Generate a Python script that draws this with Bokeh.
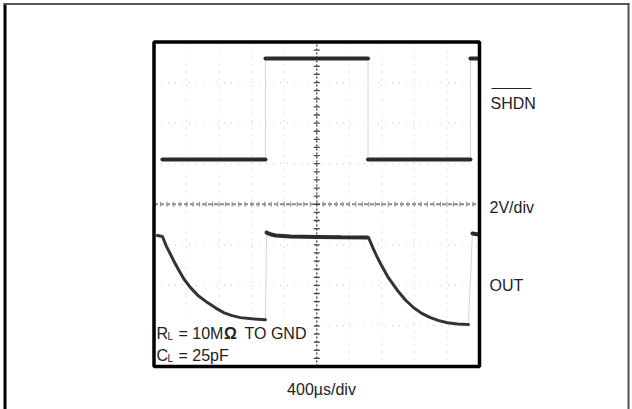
import numpy as np
from bokeh.plotting import figure
from bokeh.models import Range1d, Label
from bokeh.embed import file_html
from bokeh.resources import INLINE

# ---------------- data (time in µs, level in V; 400 µs/div, 2 V/div) ----------------
shdn_t = [104, 1370, 1370, 2630, 2630, 3889, 3889, 3985]
shdn_v = [2.21, 2.21, 7.19, 7.19, 2.21, 2.21, 7.19, 7.19]

out_seg1_t = [43, 104, 150, 200, 240, 300, 370, 449, 540, 657, 760, 854, 960, 1063, 1200, 1370]
out_seg1_v = [-1.54, -1.59, -2.05, -2.45, -2.77, -3.22, -3.70, -4.11, -4.50, -4.85, -5.12, -5.34, -5.49, -5.59, -5.65, -5.69]
out_seg2_t = [1383, 1430, 1493, 1677, 2000, 2300, 2624]
out_seg2_v = [-1.40, -1.48, -1.54, -1.59, -1.61, -1.63, -1.64]
out_seg3_t = [2636, 2690, 2740, 2783, 2880, 2992, 3090, 3188, 3290, 3397, 3500, 3606, 3730, 3864]
out_seg3_v = [-1.64, -2.15, -2.58, -2.92, -3.62, -4.25, -4.72, -5.09, -5.38, -5.59, -5.74, -5.84, -5.90, -5.93]
out_seg4_t = [3913, 3987]
out_seg4_v = [-1.44, -1.49]

x_divs = [400, 800, 1200, 1600, 2400, 2800, 3200, 3600]
y_divs = [-6, -4, -2, 2, 4, 6]

# ---------------- layout helpers (canvas pixels -> data) ----------------
PX_PER_US = 325.5 / 4000.0
PX_PER_V = 324.5 / 16.0
X0_PX = 153.5
YC_PX = 203.75

def X(px):
    return (px - X0_PX) / PX_PER_US

def Y(py):
    return (YC_PX - py) / PX_PER_V

W, H = 632, 409
p = figure(width=W, height=H, output_backend="svg", toolbar_location=None,
           x_range=Range1d(X(0), X(W)), y_range=Range1d(Y(H), Y(0)),
           min_border=0, background_fill_color="white", border_fill_color="white")
p.axis.visible = False
p.grid.visible = False
p.outline_line_color = None

# outer frame (left, top, right)
p.segment(x0=[X(4.5)], y0=[Y(3)], x1=[X(4.5)], y1=[Y(H)], line_color="black", line_width=3)
p.segment(x0=[X(3)], y0=[Y(3.5)], x1=[X(629)], y1=[Y(3.5)], line_color="#555555", line_width=2)
p.segment(x0=[X(628)], y0=[Y(3)], x1=[X(628)], y1=[Y(H)], line_color="#555555", line_width=2)

# graticule
p.segment(x0=x_divs, y0=[-8] * len(x_divs), x1=x_divs, y1=[8] * len(x_divs),
          line_color="#d2d2d2", line_width=1.3, line_dash="1 6")
p.segment(x0=[0] * len(y_divs), y0=y_divs, x1=[4000] * len(y_divs), y1=y_divs,
          line_color="#d2d2d2", line_width=1.3, line_dash="1 6")

# centre axes with minor ticks
p.segment(x0=[0], y0=[0], x1=[4000], y1=[0], line_color="#8a8a8a", line_width=2, line_dash="4 2")
p.segment(x0=[2000], y0=[-8], x1=[2000], y1=[8], line_color="#555555", line_width=1.5, line_dash="2 2")
tx = np.arange(80, 4000, 80)
p.segment(x0=tx, y0=[-2.5 / PX_PER_V] * len(tx), x1=tx, y1=[2.5 / PX_PER_V] * len(tx),
          line_color="#999999", line_width=1.2)
ty = np.arange(-7.6, 7.7, 0.4)
p.segment(x0=[2000 - 3 / PX_PER_US] * len(ty), y0=ty, x1=[2000 + 3 / PX_PER_US] * len(ty), y1=ty,
          line_color="#444444", line_width=1.3)

# white patch behind annotation
p.quad(left=[X(155.5)], right=[X(308)], top=[Y(321)], bottom=[Y(364.5)],
       fill_color="white", line_color=None)

# SHDN trace: faint edges, thick flat segments
p.line(shdn_t, shdn_v, line_color="#d6d6d6", line_width=1)
p.multi_line(xs=[shdn_t[i:i + 2] for i in range(0, len(shdn_t), 2)],
             ys=[shdn_v[i:i + 2] for i in range(0, len(shdn_v), 2)],
             line_color="#2b2b2b", line_width=4, line_cap="round")

# OUT trace
p.segment(x0=[out_seg1_t[-1], out_seg3_t[-1]], y0=[out_seg1_v[-1], out_seg3_v[-1]],
          x1=[out_seg2_t[0], out_seg4_t[0]], y1=[out_seg2_v[0], out_seg4_v[0]],
          line_color="#d6d6d6", line_width=1)
p.line(out_seg1_t, out_seg1_v, line_color="#333333", line_width=3, line_cap="round")
p.line(out_seg2_t, out_seg2_v, line_color="#2b2b2b", line_width=4, line_cap="round")
p.line(out_seg3_t, out_seg3_v, line_color="#333333", line_width=3, line_cap="round")
p.line(out_seg4_t, out_seg4_v, line_color="#2b2b2b", line_width=4, line_cap="round")

# scope screen border
p.quad(left=[0], right=[4000], top=[8], bottom=[-8], fill_color=None,
       line_color="black", line_width=3.5)

FONT = "Liberation Sans"
TC = "#222222"
DY = 5  # baseline correction for svg text

def lab(px, py, text, size="16px", align="left", style="normal"):
    p.add_layout(Label(x=X(px), y=Y(py - DY), text=text, text_font=FONT, text_font_size=size,
                       text_color=TC, text_align=align, text_baseline="alphabetic",
                       text_font_style=style))

lab(490, 108, "SHDN")
p.segment(x0=[X(491)], y0=[Y(88)], x1=[X(531)], y1=[Y(88)], line_color=TC, line_width=1.2)
lab(489, 212, "2V/div")
lab(489, 290, "OUT")
lab(321, 394, "400µs/div", align="center")

lab(156, 338, "R")
lab(167, 341, "L", size="10px")
lab(178, 338, "= 10M")
lab(223.5, 338, "Ω", style="bold")
lab(244, 338, "TO GND")
lab(156, 360, "C")
lab(167, 363, "L", size="10px")
lab(178, 360, "= 25pF")

open("out.html", "w").write(file_html(p, INLINE))
